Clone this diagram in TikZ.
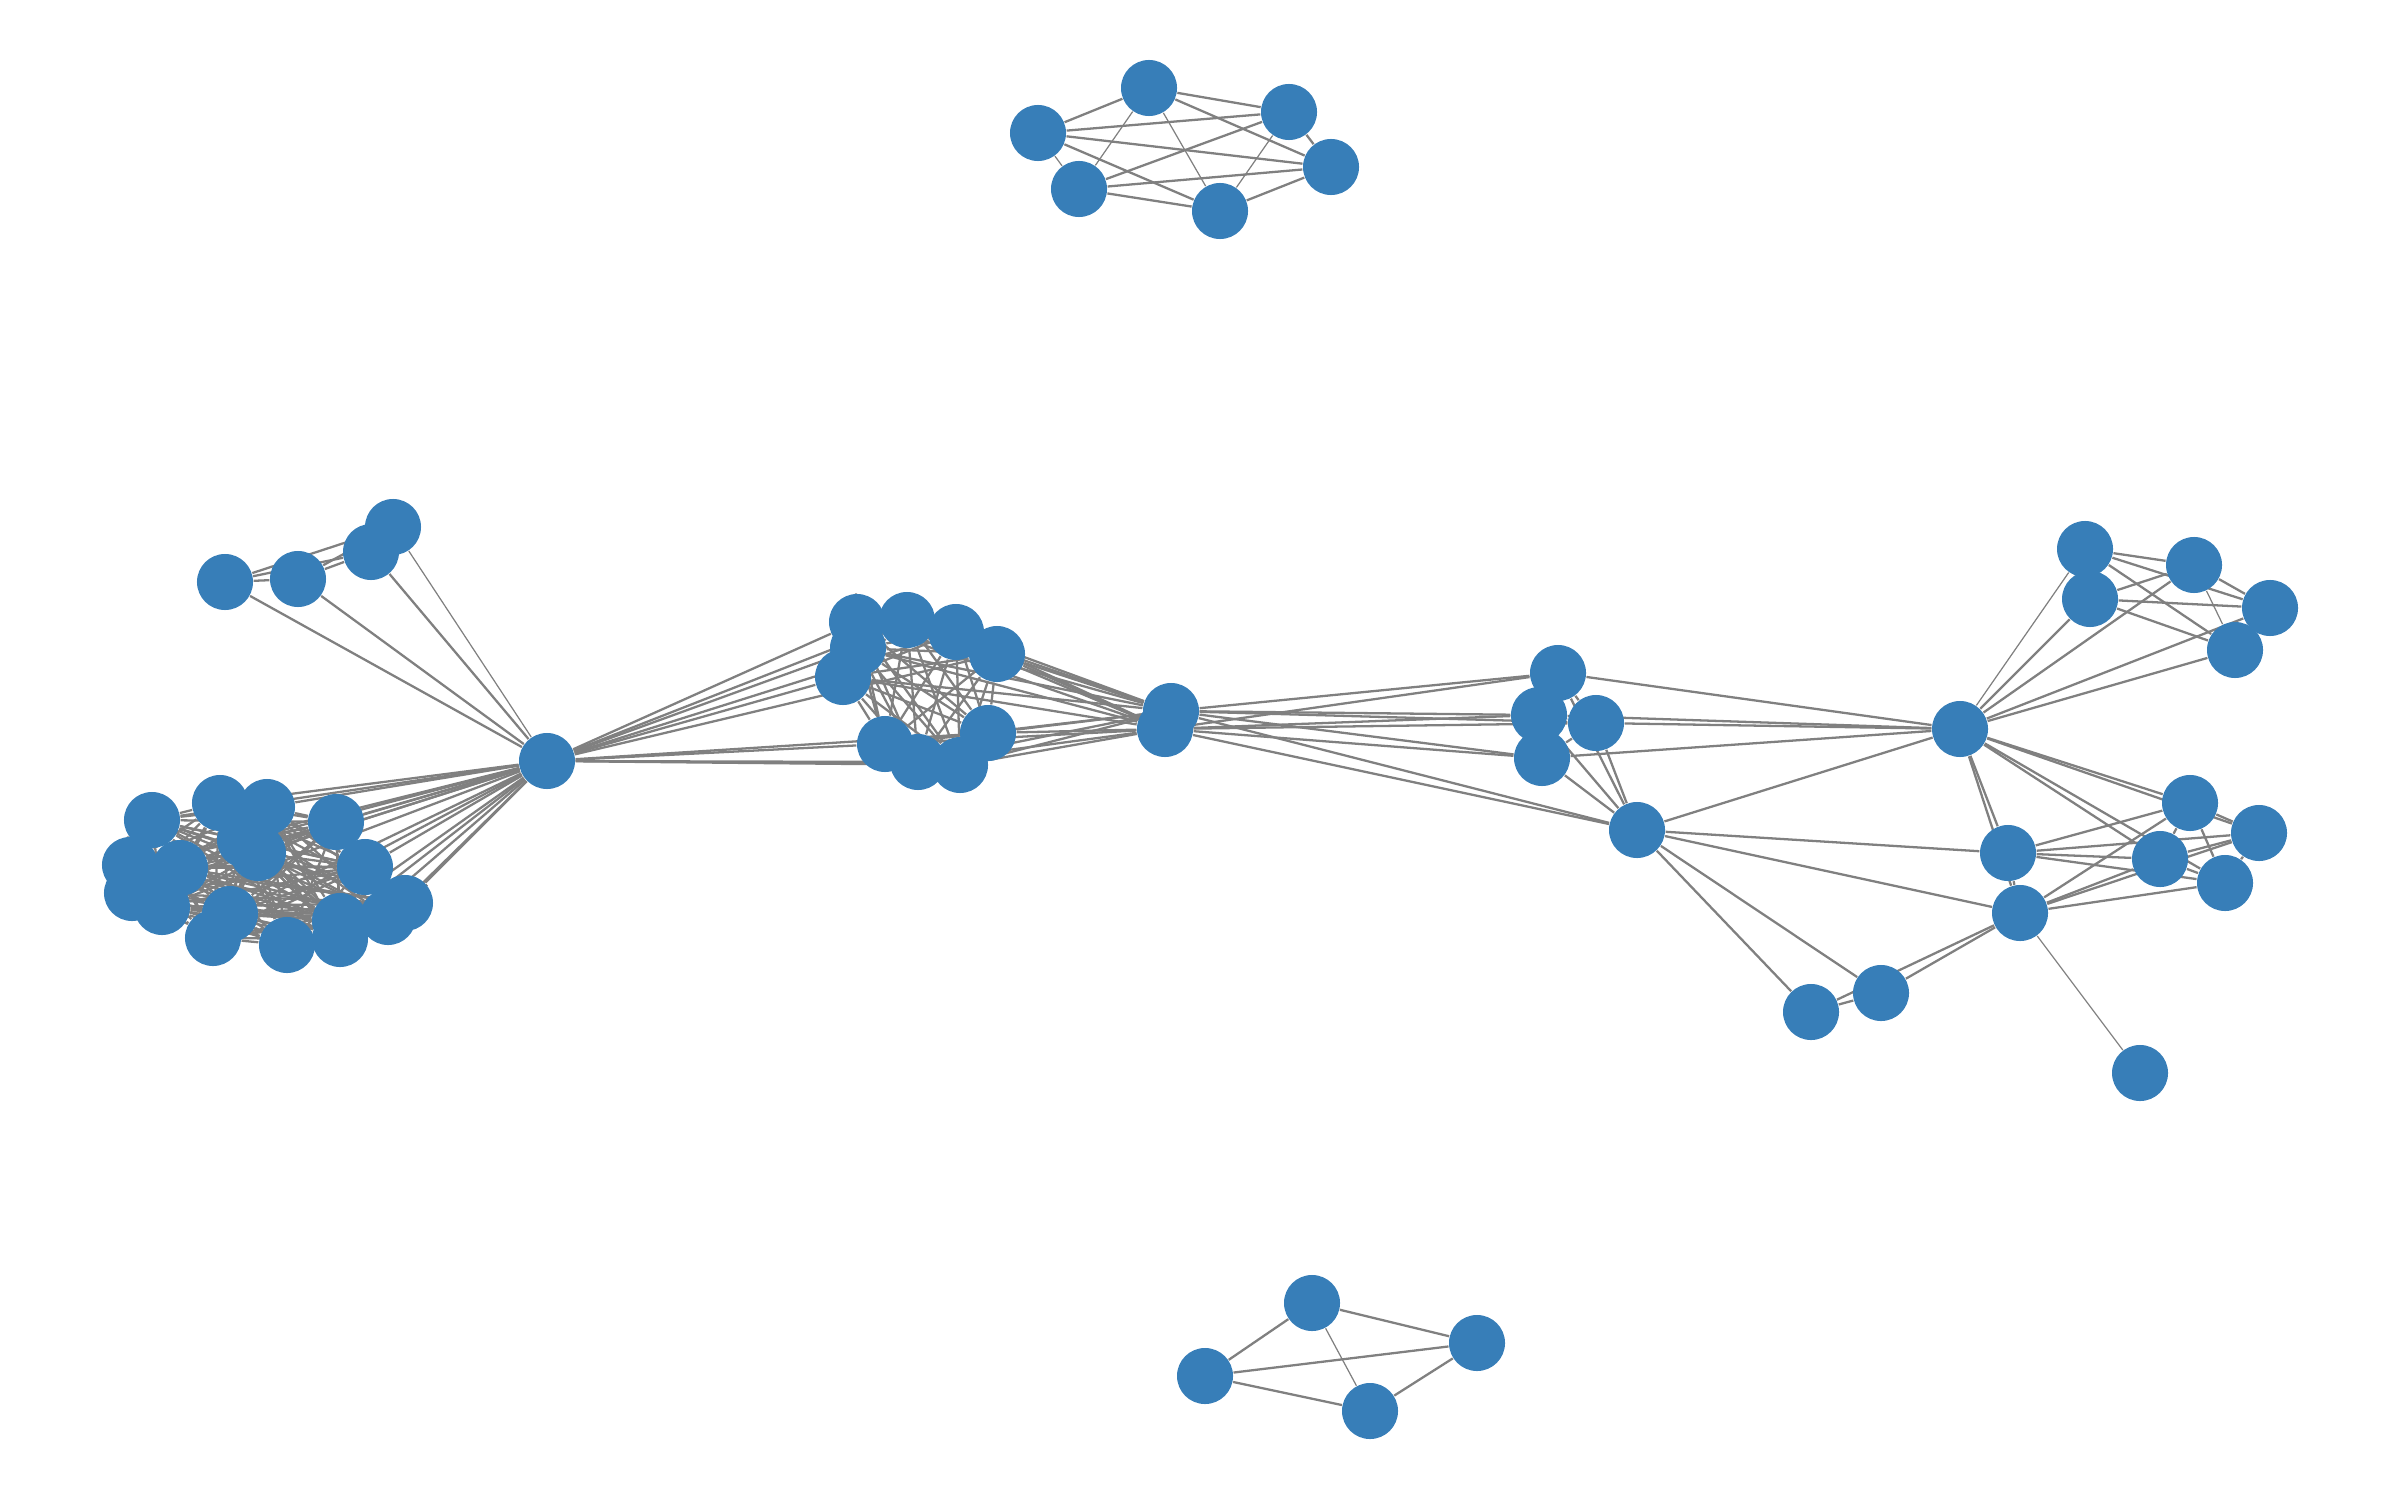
\documentclass[tikz,border=0pt]{standalone}
\usepackage{xcolor}
\usepackage{tikz}
\usetikzlibrary{backgrounds}
\definecolor{nodeblue}{HTML}{377EB8}
\definecolor{edgegray}{HTML}{808080}

\begin{document}
\begin{tikzpicture}[x=0.01cm,y=-0.01cm]
\tikzstyle{vertex}=[circle,fill=nodeblue,draw=none,inner sep=0pt,minimum size=0.56cm]
\tikzstyle{edge}=[draw=edgegray,line width=0.65pt]
\tikzstyle{thinedge}=[draw=edgegray,line width=0.35pt]
\useasboundingbox (0,0) rectangle (2400,1500);

% top group
\node[vertex] (top1) at (1149,88) {};
\node[vertex] (top2) at (1289,112) {};
\node[vertex] (top3) at (1038,133) {};
\node[vertex] (top4) at (1331,167) {};
\node[vertex] (top5) at (1079,189) {};
\node[vertex] (top6) at (1220,211) {};

% bottom group
\node[vertex] (bot1) at (1312,1303) {};
\node[vertex] (bot2) at (1477,1343) {};
\node[vertex] (bot3) at (1205,1376) {};
\node[vertex] (bot4) at (1370,1411) {};

% left hub and its leaves
\node[vertex] (hubL) at (547,761) {};
\node[vertex] (leaf1) at (225,582) {};
\node[vertex] (leaf2) at (298,579) {};
\node[vertex] (leaf3) at (371,552) {};
\node[vertex] (leaf4) at (393,527) {};

% left cluster
\foreach \n/\x/\y in {1/152/820,2/220/803,3/267/807,4/336/822,5/245/840,6/258/853,
  7/130/865,8/180/868,9/365/867,10/132/893,11/162/907,12/230/914,13/405/903,
  14/388/917,15/340/921,16/340/939,17/287/945,18/213/938}
  \node[vertex] (cl\n) at (\x,\y) {};

% middle cluster
\foreach \n/\x/\y in {1/857/622,2/907/620,3/956/632,4/997/654,5/858/648,
  6/843/677,7/885/744,8/918/762,9/960/765,10/988/733}
  \node[vertex] (mid\n) at (\x,\y) {};
\node[vertex] (hubM1) at (1171,711) {};
\node[vertex] (hubM2) at (1165,729) {};

% bridge group
\node[vertex] (br1) at (1558,673) {};
\node[vertex] (br2) at (1539,715) {};
\node[vertex] (br3) at (1596,723) {};
\node[vertex] (br4) at (1542,758) {};
\node[vertex] (link) at (1637,830) {};

% right side
\node[vertex] (hubR) at (1960,729) {};
\node[vertex] (up1) at (2085,549) {};
\node[vertex] (up2) at (2090,599) {};
\node[vertex] (up3) at (2194,565) {};
\node[vertex] (up4) at (2270,608) {};
\node[vertex] (up5) at (2235,650) {};
\node[vertex] (q1) at (2008,853) {};
\node[vertex] (q2) at (2020,913) {};
\node[vertex] (s1) at (2190,803) {};
\node[vertex] (s2) at (2259,833) {};
\node[vertex] (s3) at (2160,859) {};
\node[vertex] (s4) at (2225,883) {};
\node[vertex] (tail1) at (1881,993) {};
\node[vertex] (tail2) at (1811,1012) {};
\node[vertex] (tail3) at (2140,1073) {};

\begin{pgfonlayer}{background}
% top and bottom groups
\foreach \a/\b in {top1/top2,top1/top3,top1/top4,top2/top3,top2/top5,top2/top4,
  top3/top4,top3/top6,top4/top5,top4/top6,top5/top6}
  \draw[edge] (\a) -- (\b);
\foreach \a/\b in {top1/top5,top1/top6,top2/top6,top3/top5}
  \draw[thinedge] (\a) -- (\b);
\foreach \a/\b in {bot1/bot2,bot1/bot3,bot2/bot3,bot2/bot4,bot3/bot4}
  \draw[edge] (\a) -- (\b);
\draw[thinedge] (bot1) -- (bot4);

% left side
\foreach \a/\b in {leaf1/leaf2,leaf1/leaf3,leaf1/leaf4,leaf2/leaf3,leaf2/leaf4,leaf3/leaf4,
  leaf1/hubL,leaf2/hubL,leaf3/hubL}
  \draw[edge] (\a) -- (\b);
\draw[thinedge] (leaf4) -- (hubL);
\foreach \i in {1,...,18} {
  \draw[edge] (cl\i) -- (hubL);
  \foreach \j in {1,...,18} {\ifnum\i<\j \draw[edge] (cl\i) -- (cl\j);\fi}
}

% middle
\foreach \i in {1,...,10} {
  \draw[edge] (mid\i) -- (hubL);
  \draw[edge] (mid\i) -- (hubM1);
  \draw[edge] (mid\i) -- (hubM2);
  \foreach \j in {1,...,10} {\ifnum\i<\j \draw[edge] (mid\i) -- (mid\j);\fi}
}
\foreach \h in {hubM1,hubM2}
  \foreach \b in {br1,br2,br3,br4,link}
    \draw[edge] (\h) -- (\b);

% bridge and right side
\foreach \a/\b in {br1/br2,br1/br3,br1/br4,br2/br3,br2/br4,br3/br4,
  br1/link,br2/link,br3/link,br4/link,br1/hubR,br2/hubR,br3/hubR,br4/hubR,
  link/hubR,link/q1,link/q2,link/tail1,link/tail2,tail1/tail2,q2/tail1,q2/tail2,
  q1/q2,q1/hubR,q2/hubR}
  \draw[edge] (\a) -- (\b);
\draw[thinedge] (q2) -- (tail3);
\foreach \s in {s1,s2,s3,s4} {
  \draw[edge] (hubR) -- (\s);
  \draw[edge] (q1) -- (\s);
  \draw[edge] (q2) -- (\s);
}
\foreach \a/\b in {s1/s2,s1/s3,s1/s4,s2/s3,s2/s4,s3/s4}
  \draw[edge] (\a) -- (\b);
\draw[thinedge] (hubR) -- (up1);
\foreach \u in {up2,up3,up4,up5}
  \draw[edge] (hubR) -- (\u);
\foreach \a/\b in {up1/up2,up1/up3,up1/up4,up1/up5,up2/up3,up2/up4,up2/up5,up3/up4,up4/up5}
  \draw[edge] (\a) -- (\b);
\draw[thinedge] (up3) -- (up5);
\end{pgfonlayer}
\end{tikzpicture}
\end{document}
